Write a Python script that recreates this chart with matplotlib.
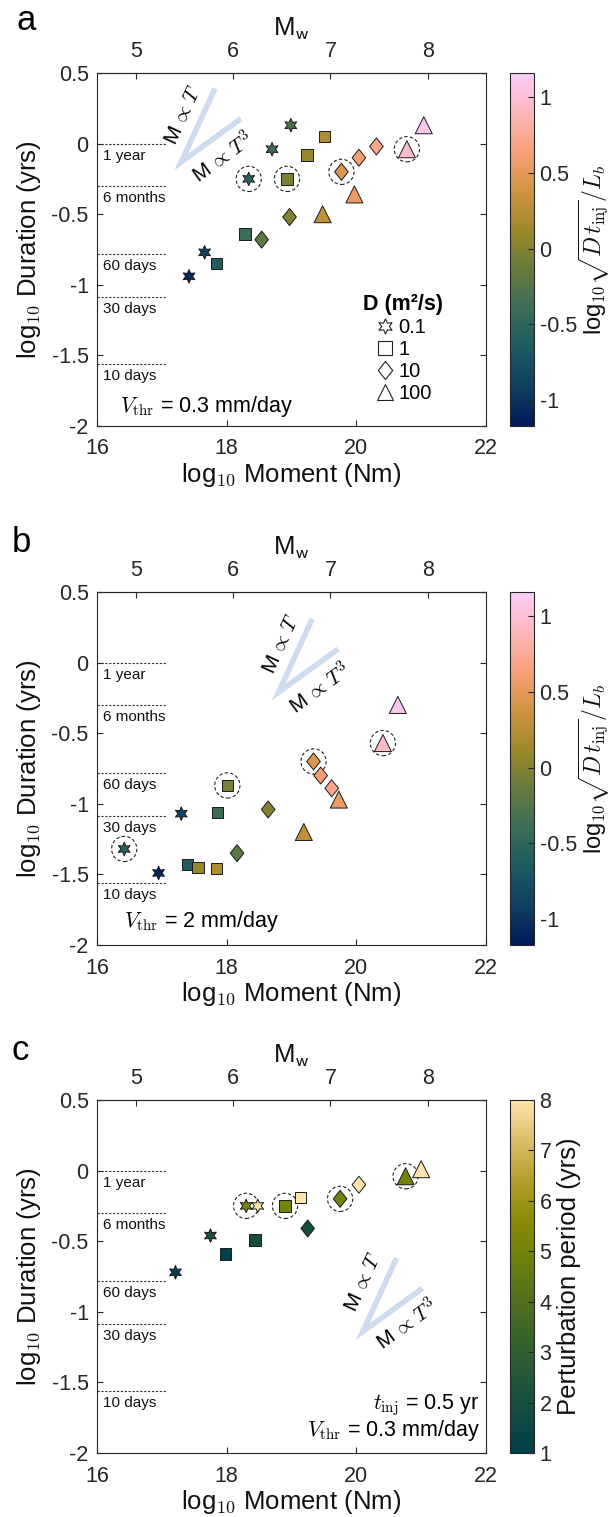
import numpy as np
import matplotlib
matplotlib.use('Agg')
import matplotlib.pyplot as plt
from matplotlib.colors import LinearSegmentedColormap
from matplotlib.lines import Line2D
from matplotlib.path import Path

plt.rcParams['font.family'] = ['Liberation Sans', 'DejaVu Sans']
plt.rcParams['mathtext.fontset'] = 'cm'
plt.rcParams['axes.unicode_minus'] = False

# ---- data ----
# panel a : V_thr = 0.3 mm/day
a_mom = [17.42, 17.66, 18.34, 18.70, 18.99,
         17.84, 18.28, 18.93, 19.24, 19.51,
         18.54, 18.97, 19.77, 20.04, 20.31,
         19.48, 19.97, 20.78, 21.04]
a_dur = [-0.94, -0.77, -0.25, -0.04, 0.13,
         -0.85, -0.64, -0.25, -0.08, 0.05,
         -0.68, -0.52, -0.20, -0.10, -0.02,
         -0.50, -0.36, -0.04, 0.13]
a_col = [-1.1, -0.9, -0.55, -0.4, -0.3,
         -0.6, -0.4, -0.05, 0.1, 0.2,
         -0.2, 0.0, 0.45, 0.6, 0.7,
         0.3, 0.55, 0.95, 1.1]
a_D = [0.1] * 5 + [1] * 5 + [10] * 5 + [100] * 4
a_circ = [0, 0, 1, 0, 0,  0, 0, 1, 0, 0,  0, 0, 1, 0, 0,  0, 0, 1, 0]

# panel b : V_thr = 2 mm/day
b_mom = [16.95, 17.30, 16.42,
         18.01, 17.86, 17.40, 17.56, 17.84,
         18.64, 18.16, 19.34, 19.45, 19.62,
         19.19, 19.73, 20.41, 20.64]
b_dur = [-1.49, -1.07, -1.32,
         -0.87, -1.06, -1.43, -1.45, -1.46,
         -1.04, -1.35, -0.70, -0.80, -0.89,
         -1.20, -0.97, -0.57, -0.30]
b_col = [-1.1, -0.9, -0.55,
         -0.05, -0.4, -0.6, 0.1, 0.2,
         0.0, -0.2, 0.45, 0.6, 0.7,
         0.3, 0.55, 0.95, 1.1]
b_D = [0.1] * 3 + [1] * 5 + [10] * 5 + [100] * 4
b_circ = [0, 0, 1,  1, 0, 0, 0, 0,  0, 0, 1, 0, 0,  0, 0, 1, 0]

# panel c : t_inj = 0.5 yr, V_thr = 0.3 mm/day
c_mom = [17.21, 17.75, 18.30, 18.48,
         17.98, 18.44, 18.90, 19.14,
         19.25, 19.75, 20.04,
         20.76, 21.00]
c_dur = [-0.72, -0.46, -0.25, -0.25,
         -0.59, -0.49, -0.25, -0.19,
         -0.41, -0.20, -0.10,
         -0.04, 0.01]
c_per = [1, 2, 5, 8,
         1, 2, 5, 8,
         2, 5, 8,
         5, 8]
c_D = [0.1] * 4 + [1] * 4 + [10] * 3 + [100] * 2
c_circ = [0, 0, 1, 0,  0, 0, 1, 0,  0, 1, 0,  1, 0]

ref_names = ['1 year', '6 months', '60 days', '30 days', '10 days']
ref_days = [365, 182.5, 60, 30, 10]

# ---- colormaps (batlow / bamako look-alikes) ----
batlow = LinearSegmentedColormap.from_list('batlow', [
    '#011959', '#104060', '#1C5A62', '#3C6D56', '#687B3E',
    '#9D892B', '#D29343', '#F8A17B', '#FDB7BC', '#FACCFA'])
bamako = LinearSegmentedColormap.from_list('bamako', [
    '#00404D', '#134B42', '#265737', '#3A6429', '#53721B',
    '#6E810D', '#8D8C04', '#B59F2F', '#DCBF6A', '#FFE5AD'])

hexagram = (6, 1, 0)
diamond = Path([(0, 1), (0.8, 0), (0, -1), (-0.8, 0), (0, 1)],
               [Path.MOVETO, Path.LINETO, Path.LINETO, Path.LINETO, Path.CLOSEPOLY])
markers = {0.1: hexagram, 1: 's', 10: diamond, 100: '^'}
sizes = {0.1: 95, 1: 68, 10: 150, 100: 150}

dark = '#262626'
TICK = 15.5
LAB = 18.5
fig = plt.figure(figsize=(6.13, 15.17), dpi=100)

W, H = 613, 1517
def fpos(left, top, right, bottom):
    return [left / W, 1 - bottom / H, (right - left) / W, (bottom - top) / H]


def panel(top, mom, dur, col, Ds, circ, cmap, vmin, vmax):
    ax = fig.add_axes(fpos(97, top, 486, top + 353))
    mom = np.array(mom); dur = np.array(dur); col = np.array(col)
    Ds = np.array(Ds); circ = np.array(circ, bool)
    for d in [0.1, 1, 10, 100]:
        m = Ds == d
        ax.scatter(mom[m], dur[m], c=col[m], cmap=cmap, vmin=vmin, vmax=vmax,
                   marker=markers[d], s=sizes[d], edgecolors='#1a1a1a',
                   linewidths=0.7, zorder=3)
    ax.scatter(mom[circ], dur[circ], s=330, facecolors='none', edgecolors='#222222',
               linewidths=0.8, linestyles=(0, (3, 2)), zorder=2)
    # reference durations
    for name, d in zip(ref_names, ref_days):
        yv = np.log10(d / 365)
        ax.plot([16, 17.08], [yv, yv], ls=(0, (2, 1.5)), color='#333333', lw=0.8, zorder=1)
        ax.text(16.1, yv - 0.035, name, fontsize=11, va='top', ha='left', color='#111111')
    ax.set_xlim(16, 22)
    ax.set_ylim(-2, 0.5)
    ax.set_xticks([16, 18, 20, 22])
    ax.set_xticklabels(['16', '18', '20', '22'])
    ax.set_yticks([-2, -1.5, -1, -0.5, 0, 0.5])
    ax.set_yticklabels(['-2', '-1.5', '-1', '-0.5', '0', '0.5'])
    ax.tick_params(direction='in', length=4, width=0.8, labelsize=TICK, colors=dark,
                   right=True, top=False)
    ax.tick_params(axis='x', pad=9)
    ax.tick_params(axis='y', pad=6)
    for s in ax.spines.values():
        s.set_color(dark); s.set_linewidth(0.8)
    ax.set_xlabel('log$_{\\mathsf{10}}$ Moment (Nm)', fontsize=LAB, color='#111111', labelpad=1)
    ax.set_ylabel('log$_{\\mathsf{10}}$ Duration (yrs)', fontsize=LAB, color='#111111', labelpad=6)
    sec = ax.secondary_xaxis('top', functions=(lambda m: (m - 9.1) / 1.5,
                                               lambda w: 1.5 * w + 9.1))
    sec.set_xticks([5, 6, 7, 8])
    sec.set_xticklabels(['5', '6', '7', '8'])
    sec.tick_params(direction='in', length=4, width=0.8, labelsize=TICK, colors=dark, pad=8)
    sec.spines['top'].set_color(dark)
    sec.set_xlabel('M$_{\\mathsf{w}}$', fontsize=LAB, color='#111111', labelpad=4)
    return ax


def scaling(ax, xv, yv, t1, t2):
    ax.plot([xv + 0.52, xv, xv + 0.92], [yv + 0.52, yv, yv + 0.92 / 3],
            color='#cfdcf0', lw=4, solid_capstyle='butt', solid_joinstyle='miter', zorder=1)
    ax.text(t1[0], t1[1], 'M$\\,\\propto\\,T$', fontsize=15, rotation=45,
            transform_rotates_text=True, ha='center', va='center', rotation_mode='anchor')
    ax.text(t2[0], t2[1], 'M$\\,\\propto\\,T^3$', fontsize=15, rotation=np.degrees(np.arctan(1 / 3)),
            transform_rotates_text=True, ha='center', va='center', rotation_mode='anchor')


def colorbar(top, cmap, vmin, vmax, ticks, labels, label, size, pad):
    cax = fig.add_axes(fpos(510, top, 534, top + 353))
    sm = plt.cm.ScalarMappable(cmap=cmap, norm=plt.Normalize(vmin, vmax))
    cb = fig.colorbar(sm, cax=cax)
    cb.set_ticks(ticks)
    cb.set_ticklabels(labels)
    cb.ax.tick_params(direction='in', length=4, width=0.8, labelsize=TICK, colors=dark, pad=4)
    cb.outline.set_edgecolor(dark)
    cb.outline.set_linewidth(0.8)
    cb.set_label(label, fontsize=size, color='#111111', labelpad=pad)


cticks = [-1, -0.5, 0, 0.5, 1]
clabels = ['-1', '-0.5', '0', '0.5', '1']
clab = 'log$_{\\mathsf{10}}\\sqrt{D\\,t_{\\rm inj}}/L_b$'

# panel a
ax_a = panel(73, a_mom, a_dur, a_col, a_D, a_circ, batlow, -1.17, 1.16)
scaling(ax_a, 17.30, -0.13, (17.34, 0.20), (17.94, -0.10))
ax_a.text(17.69, -1.86, '$V_{\\rm thr}$ = 0.3 mm/day', fontsize=15.5, ha='center', va='center')
handles = [Line2D([], [], ls='none', marker=markers[d], ms=ms, mfc='none', mec='#222222', mew=0.8)
           for d, ms in zip([0.1, 1, 10, 100], [11, 9.5, 13, 12])]
leg = ax_a.legend(handles, ['0.1', '1', '10', '100'], title='D (m²/s)', loc='lower right',
                  bbox_to_anchor=(0.925, 0.025), frameon=False, fontsize=14.5,
                  handletextpad=0.15, labelspacing=0.15, handlelength=1.1, borderpad=0.2,
                  title_fontproperties={'weight': 'bold', 'size': 15.5})
colorbar(73, batlow, -1.17, 1.16, cticks, clabels, clab, 17, 0)
fig.text(17 / W, 1 - 20 / H, 'a', fontsize=25, va='center', ha='left')

# panel b
ax_b = panel(592, b_mom, b_dur, b_col, b_D, b_circ, batlow, -1.17, 1.16)
scaling(ax_b, 18.80, -0.21, (18.84, 0.13), (19.44, -0.18))
ax_b.text(17.61, -1.835, '$V_{\\rm thr}$ = 2 mm/day', fontsize=15.5, ha='center', va='center')
colorbar(592, batlow, -1.17, 1.16, cticks, clabels, clab, 17, 0)
fig.text(12 / W, 1 - 543 / H, 'b', fontsize=25, va='center', ha='left')

# panel c
ax_c = panel(1100, c_mom, c_dur, c_per, c_D, c_circ, bamako, 1, 8)
scaling(ax_c, 20.10, -1.14, (20.11, -0.79), (20.77, -1.09))
ax_c.text(21.9, -1.66, '$t_{\\rm inj}$ = 0.5 yr', fontsize=15.5, ha='right', va='center')
ax_c.text(21.9, -1.84, '$V_{\\rm thr}$ = 0.3 mm/day', fontsize=15.5, ha='right', va='center')
colorbar(1100, bamako, 1, 8, list(range(1, 9)), [str(i) for i in range(1, 9)],
         'Perturbation period (yrs)', LAB, 4)
fig.text(12 / W, 1 - 1050 / H, 'c', fontsize=25, va='center', ha='left')

fig.savefig('out.png', dpi=100, facecolor='white')
